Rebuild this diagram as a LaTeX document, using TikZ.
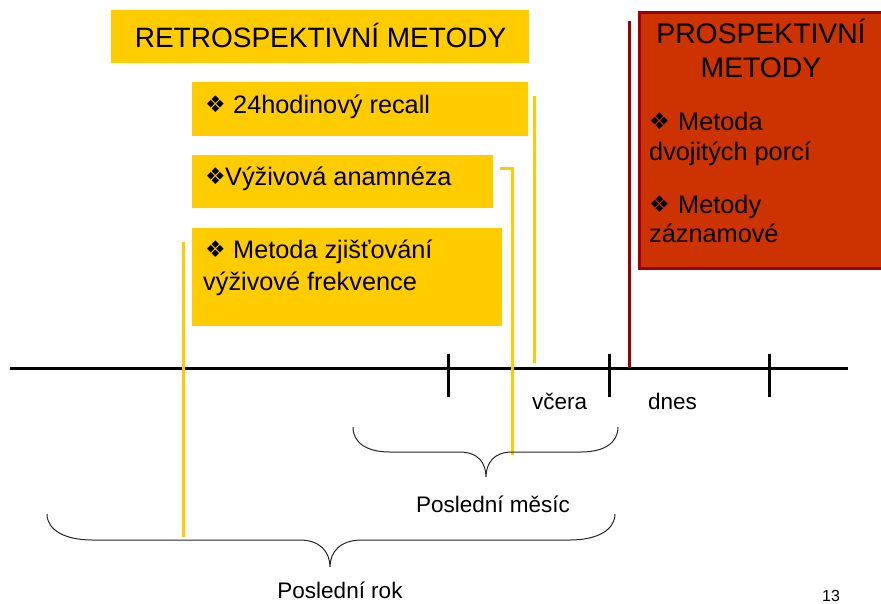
\documentclass[tikz,border=0pt]{standalone}
\usepackage{fontspec}
\setmainfont{Liberation Sans}
\newfontfamily\symfont{DejaVu Sans}
\definecolor{retroyellow}{HTML}{FFCC00}
\definecolor{prosred}{HTML}{CC3300}
\definecolor{prosedge}{HTML}{A00000}
\newcommand{\bulw}[1]{\makebox[#1][l]{\raisebox{0.5pt}{\symfont\fontsize{23}{23}\selectfont ❖}}}
\begin{document}
\begin{tikzpicture}[x=1pt,y=-1pt,
  ybox/.style={fill=retroyellow, draw=none, inner sep=0pt, anchor=north west},
  rbox/.style={fill=prosred, draw=prosedge, line width=2.5pt, inner sep=0pt, anchor=north west},
  ttl/.style={inner sep=0pt, font=\fontsize{28}{33}\selectfont},
  ptl/.style={inner sep=0pt, font=\fontsize{28.3}{33}\selectfont},
  item/.style={inner sep=0pt, anchor=base west, font=\fontsize{25.3}{30}\selectfont},
  lbl/.style={inner sep=0pt, font=\fontsize{22.5}{27}\selectfont},
  yline/.style={draw=retroyellow, line width=3pt},
  rline/.style={draw=prosedge, line width=3pt},
  axis/.style={draw=black, line width=3pt},
  tick/.style={draw=black, line width=3pt},
  bracepath/.style={draw=black!85, line width=1pt}]
\useasboundingbox (0,0) rectangle (881,603);

% retrospective methods
\node[ybox, minimum width=418pt, minimum height=53pt] (retro) at (111,10) {};
\node[ttl, anchor=base] (retrot) at (320.5,47) {RETROSPEKTIVNÍ METODY};

\node[ybox, minimum width=336pt, minimum height=54pt] (b1) at (192,82) {};
\node[item] (b1t) at (205,113) {\bulw{28pt}24hodinový recall};

\node[ybox, minimum width=301pt, minimum height=53pt] (b2) at (192,155) {};
\node[item] (b2t) at (205,185) {\bulw{20pt}Výživová anamnéza};

\node[ybox, minimum width=310pt, minimum height=98pt] (b3) at (192,228) {};
\node[item] (b3t) at (205,258) {\bulw{28pt}Metoda zjišťování};
\node[item] (b3u) at (203,290) {výživové frekvence};

% prospective methods
\node[rbox, minimum width=250pt, minimum height=256pt] (pros) at (638,11) {};
\node[ptl, anchor=base] (prost) at (761,43) {PROSPEKTIVNÍ};
\node[ptl, anchor=base] (prosu) at (761,77) {METODY};
\node[item] (p1) at (649,130) {\bulw{29pt}Metoda};
\node[item] (p1b) at (649,160) {dvojitých porcí};
\node[item] (p2) at (649,213) {\bulw{29pt}Metody};
\node[item] (p2b) at (649,242) {záznamové};

% time axis
\coordinate (ax0) at (10,368);
\coordinate (ax1) at (848,368);
\draw[axis] (ax0) -- (ax1);
\coordinate (k1) at (448,354);
\coordinate (k2) at (609,354);
\coordinate (k3) at (769,354);
\draw[tick] (k1) -- ++(0,43);
\draw[tick] (k2) -- ++(0,43);
\draw[tick] (k3) -- ++(0,43);

% range markers
\coordinate (y1a) at (534,96);
\coordinate (y1b) at (534,363);
\draw[yline] (y1a) -- (y1b);
\coordinate (y2a) at (500,168);
\coordinate (y2b) at (512,455);
\draw[yline] (y2a) -| (y2b);
\coordinate (y3a) at (183,242);
\coordinate (y3b) at (183,537);
\draw[yline] (y3a) -- (y3b);
\coordinate (ra) at (629,21);
\coordinate (rb) at (629,368);
\draw[rline] (ra) -- (rb);

% labels
\node[lbl, anchor=base west] (vcera) at (532,409) {včera};
\node[lbl, anchor=base west] (dnes) at (648,409) {dnes};

% braces
\draw[bracepath] (353,427) .. controls (353,443) and (367,452) .. (390,452) -- (460,452)
  .. controls (478,452) and (486,463) .. (486,477)
  .. controls (486,463) and (494,452) .. (512,452) -- (581,452)
  .. controls (604,452) and (618,443) .. (618,427);
\node[lbl, anchor=base] (mesic) at (493,512) {Poslední měsíc};

\draw[bracepath] (47,514) .. controls (47,530) and (65,540) .. (92,540) -- (300,540)
  .. controls (320,540) and (330,552) .. (330,567)
  .. controls (330,552) and (340,540) .. (362,540) -- (570,540)
  .. controls (597,540) and (615,530) .. (615,514);
\node[lbl, anchor=base] (rok) at (340,598) {Poslední rok};

\node[inner sep=0pt, anchor=base, font=\fontsize{16}{19}\selectfont] (pg) at (831,601) {13};
\end{tikzpicture}
\end{document}
